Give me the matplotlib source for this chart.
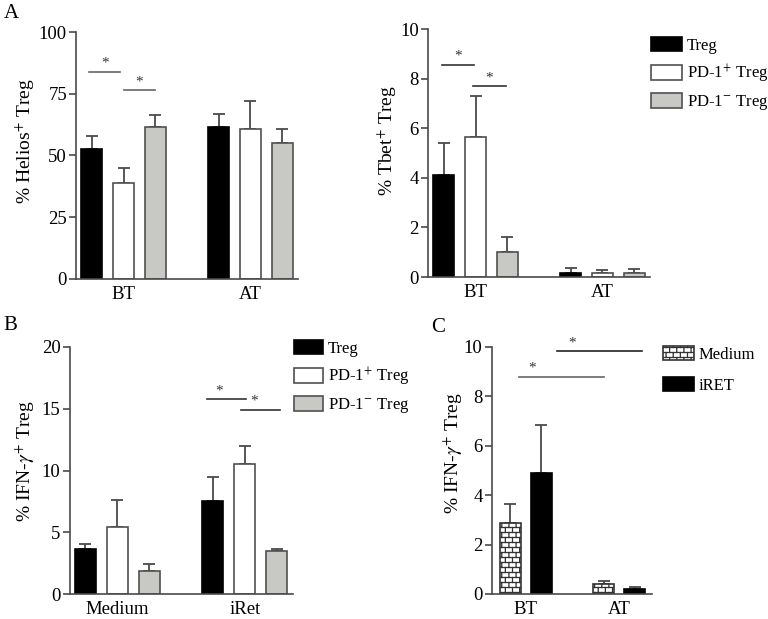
import warnings
import numpy as np
import matplotlib
matplotlib.use("Agg")
import matplotlib.pyplot as plt
from matplotlib import hatch as mhatch
from matplotlib.path import Path
from matplotlib.patches import Patch

warnings.filterwarnings("ignore")

# Data
groups_a = ["BT", "AT"]
groups_b = ["Medium", "iRet"]
series_a = ["Treg", "PD-1$^{+}$ Treg", "PD-1$^{-}$ Treg"]
series_c = ["Medium", "iRET"]

# % Helios+ Treg (mean, sem) per series, [BT, AT]
helios_mean = [[52.6, 61.7], [38.7, 60.8], [61.7, 55.0]]
helios_sem = [[5.4, 5.3], [6.3, 11.2], [4.6, 5.8]]

# % Tbet+ Treg
tbet_mean = [[4.1, 0.18], [5.65, 0.15], [1.0, 0.15]]
tbet_sem = [[1.3, 0.2], [1.65, 0.15], [0.6, 0.18]]

# % IFN-g+ Treg, [Medium, iRet]
ifn_b_mean = [[3.68, 7.56], [5.46, 10.52], [1.86, 3.47]]
ifn_b_sem = [[0.38, 1.89], [2.16, 1.48], [0.61, 0.21]]

# % IFN-g+ Treg, series Medium / iRET, [BT, AT]
ifn_c_mean = [[2.86, 0.39], [4.88, 0.19]]
ifn_c_sem = [[0.77, 0.14], [1.95, 0.08]]

# significance bars: (x0, x1, y, star_x)
sig_helios = [(-0.1, 0.9, 83.9, 0.4), (1.0, 2.0, 76.5, 1.5)]
sig_tbet = [(-0.05, 0.95, 8.55, 0.45), (0.92, 1.96, 7.7, 1.44)]
sig_ifn_b = [(3.82, 5.04, 15.75, 4.2), (4.88, 6.1, 14.9, 5.3)]
sig_ifn_c = [(1.51, 4.22, 9.81, 1.99), (0.28, 3.02, 8.79, 0.7)]


class BrickHatch(mhatch.HatchPatternBase):
    def __init__(self, hatch, density):
        self.rows = 20
        self.cols = 14
        if "b" in hatch:
            self.num_vertices = 2 * (self.rows + self.rows * self.cols + self.cols)
        else:
            self.num_vertices = 0

    def set_vertices_and_codes(self, vertices, codes):
        rows, cols = self.rows, self.cols
        segs = []
        for r in range(rows):
            y0 = (r + 0.5) / rows
            y1 = (r + 1.5) / rows
            segs.append(((0, y0), (1, y0)))
            off = 0.25 if r % 2 == 0 else 0.75
            for c in range(cols):
                x = (c + off) / cols
                if r == rows - 1:
                    segs.append(((x, y0), (x, 1.0)))
                    segs.append(((x, 0.0), (x, 0.5 / rows)))
                else:
                    segs.append(((x, y0), (x, y1)))
        for i, (p, q) in enumerate(segs):
            vertices[2 * i] = p
            vertices[2 * i + 1] = q
            codes[2 * i] = Path.MOVETO
            codes[2 * i + 1] = Path.LINETO


mhatch._hatch_types.append(BrickHatch)

plt.rcParams["font.family"] = ["Liberation Serif", "DejaVu Serif"]
plt.rcParams["mathtext.fontset"] = "stix"
plt.rcParams["hatch.linewidth"] = 0.9
plt.rcParams["axes.linewidth"] = 1.2

FS = 13.5      # ticks / categories
LFS = 14       # y labels
GFS = 12       # legends
AXC = "#4a4a4a"
fills = ["black", "white", "#c8c8c4"]
edges = ["black", "#505050", "#505050"]


def style_axes(ax, ylim, yticks, xlabels, xpos, xlim, ylabel, ylab_xy):
    ax.set_ylim(*ylim)
    ax.set_xlim(*xlim)
    ax.set_yticks(yticks)
    ax.set_xticks(xpos)
    ax.set_xticklabels(xlabels, fontsize=FS)
    ax.tick_params(axis="y", direction="out", length=5, width=1.2, color=AXC,
                   labelsize=FS, pad=1.5)
    ax.tick_params(axis="x", length=0, pad=5)
    for s in ["top", "right"]:
        ax.spines[s].set_visible(False)
    for s in ["left", "bottom"]:
        ax.spines[s].set_color(AXC)
    ax.set_ylabel(ylabel, fontsize=LFS)
    ax.yaxis.set_label_coords(*ylab_xy)


def draw_bars(ax, centers, means, sems, offsets, width, colors, edgecolors, hatches=None):
    for i, (m, s) in enumerate(zip(means, sems)):
        x = np.array(centers) + offsets[i]
        ax.bar(x, m, width=width, color=colors[i], edgecolor=edgecolors[i],
               linewidth=1.2, zorder=2,
               hatch=None if hatches is None else hatches[i])
        ax.errorbar(x, m, yerr=[np.zeros(len(m)), s], fmt="none", ecolor=AXC,
                    elinewidth=1.3, capsize=4.3, capthick=1.3, zorder=1)


def draw_sig(ax, sigs, colors, dy):
    for (x0, x1, y, xs), c in zip(sigs, colors):
        ax.plot([x0, x1], [y, y], color=c, lw=1.2, clip_on=False)
        ax.text(xs, y + dy, "*", ha="center", va="bottom", fontsize=11,
                color="#333333", clip_on=False)


fig = plt.figure(figsize=(7.68, 6.19), dpi=100)

# Panel A left
ax1 = fig.add_axes([0.0990, 0.5493, 0.2891, 0.3990])
draw_bars(ax1, [1, 5], helios_mean, helios_sem, [-1, 0, 1], 0.66, fills, edges)
style_axes(ax1, (0, 100), [0, 25, 50, 75, 100], groups_a, [1, 5], (-0.5, 6.5),
           "% Helios$^{+}$ Treg", (-0.175, 0.56))
draw_sig(ax1, sig_helios, ["#666666", "#666666"], 0.8)

# Panel A right
ax2 = fig.add_axes([0.5573, 0.5525, 0.2891, 0.4006])
draw_bars(ax2, [1, 5], tbet_mean, tbet_sem, [-1, 0, 1], 0.66, fills, edges)
style_axes(ax2, (0, 10), [0, 2, 4, 6, 8, 10], groups_a, [1, 5], (-0.5, 6.5),
           "% Tbet$^{+}$ Treg", (-0.13, 0.55))
draw_sig(ax2, sig_tbet, ["#333333", "#333333"], 0.08)

# Panel B
ax3 = fig.add_axes([0.0905, 0.0399, 0.2904, 0.4000])
draw_bars(ax3, [1, 5], ifn_b_mean, ifn_b_sem, [-1, 0, 1], 0.66, fills, edges)
style_axes(ax3, (0, 20), [0, 5, 10, 15, 20], groups_b, [1, 5], (-0.5, 6.5),
           "% IFN-$\\gamma^{+}$ Treg", (-0.145, 0.54))
draw_sig(ax3, sig_ifn_b, ["#333333", "#333333"], 0.16)

# Panel C
ax4 = fig.add_axes([0.6402, 0.0404, 0.2087, 0.3995])
draw_bars(ax4, [0.5, 3.5], ifn_c_mean, ifn_c_sem, [-0.5, 0.5], 0.68,
          ["white", "black"], ["#333333", "black"], hatches=["b", None])
style_axes(ax4, (0, 10), [0, 2, 4, 6, 8, 10], groups_a, [0.5, 3.5], (-0.6, 4.55),
           "% IFN-$\\gamma^{+}$ Treg", (-0.167, 0.57))
draw_sig(ax4, sig_ifn_c, ["#222222", "#666666"], 0.08)

# Legends
leg_kw = dict(loc="upper left", frameon=False, fontsize=GFS, handleheight=0.95,
              handletextpad=0.3, borderpad=0, borderaxespad=0)
handles_a = [Patch(facecolor=fills[i], edgecolor=edges[i], linewidth=1.2, label=series_a[i])
             for i in range(3)]
fig.legend(handles=handles_a, bbox_to_anchor=(651 / 768, 1 - 37 / 619),
           handlelength=1.85, labelspacing=0.5, **leg_kw)
fig.legend(handles=handles_a, bbox_to_anchor=(294 / 768, 1 - 340 / 619),
           handlelength=1.75, labelspacing=0.5, **leg_kw)
handles_c = [Patch(facecolor="white", edgecolor="#333333", hatch="b", linewidth=1.2,
                   label=series_c[0]),
             Patch(facecolor="black", edgecolor="black", linewidth=1.2, label=series_c[1])]
fig.legend(handles=handles_c, bbox_to_anchor=(663 / 768, 1 - 346 / 619),
           handlelength=1.85, labelspacing=0.85, **leg_kw)

# Panel letters
fig.text(4 / 768, 1 - 4 / 619, "A", fontsize=15, va="top", ha="left")
fig.text(3 / 768, 1 - 316 / 619, "B", fontsize=15, va="top", ha="left")
fig.text(431 / 768, 1 - 318 / 619, "C", fontsize=15, va="top", ha="left")

fig.savefig("out.png", dpi=100)
